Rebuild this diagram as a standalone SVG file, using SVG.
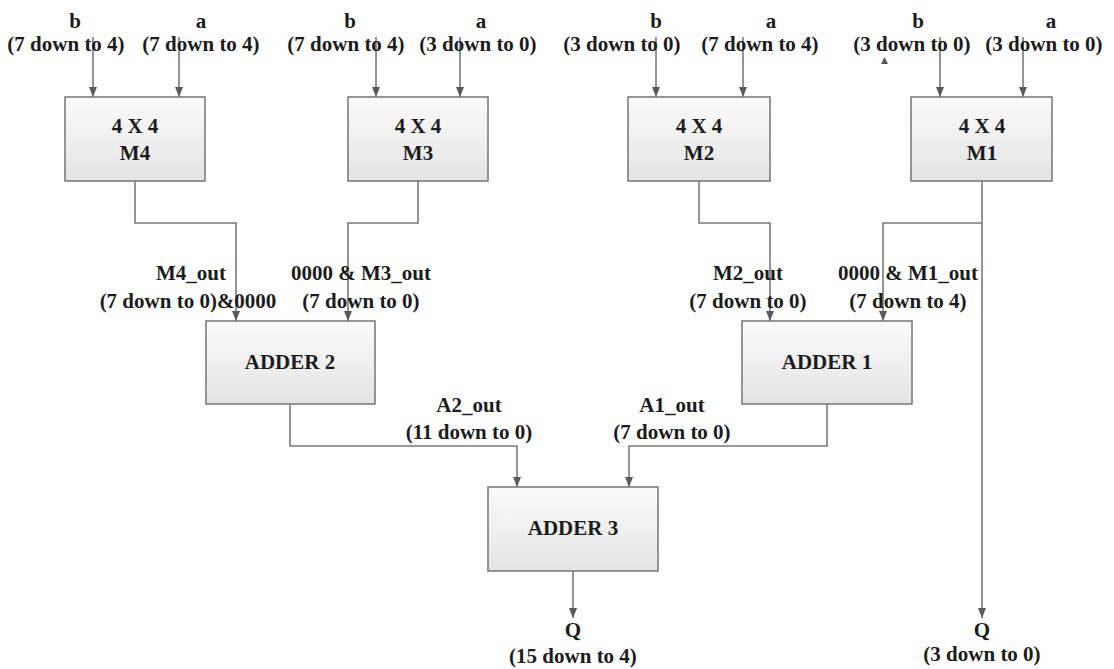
<svg xmlns="http://www.w3.org/2000/svg" width="1114" height="669" viewBox="0 0 1114 669">
<defs>
<linearGradient id="bg" x1="0" y1="0" x2="0" y2="1">
<stop offset="0" stop-color="#fbfbfb"/>
<stop offset="1" stop-color="#e4e4e4"/>
</linearGradient>
<marker id="ah" markerUnits="userSpaceOnUse" markerWidth="10" markerHeight="10" viewBox="0 0 10 10" refX="10" refY="5" orient="auto">
<path d="M0,1 L10,5 L0,9 z" fill="#5a5a5a"/>
</marker>
</defs>
<style>
.box{fill:url(#bg);stroke:#7c7c7c;stroke-width:1.6}
.t{font-family:"Liberation Serif","Times New Roman",serif;font-weight:bold;font-size:21px;fill:#1c1c1c;text-anchor:middle}
.c{fill:none;stroke:#7a7a7a;stroke-width:1.6;marker-end:url(#ah)}
.cn{fill:none;stroke:#7a7a7a;stroke-width:1.6}
</style>
<rect width="1114" height="669" fill="#ffffff"/>

<g id="connectors">
<path class="c" d="M93 37 V97"/>
<path class="c" d="M179 37 V97"/>
<path class="c" d="M376 37 V97"/>
<path class="c" d="M460 37 V97"/>
<path class="c" d="M656 37 V97"/>
<path class="c" d="M743 37 V97"/>
<path class="c" d="M940 37 V97"/>
<path class="c" d="M1023 37 V97"/>
<path class="c" d="M135 181 V223 H236 V321"/>
<path class="c" d="M418 181 V223 H348 V321"/>
<path class="c" d="M699 181 V223 H770 V321"/>
<path class="c" d="M982 181 V618"/>
<path class="c" d="M982 223 H883 V321"/>
<path class="c" d="M290 404 V446 H517 V487"/>
<path class="c" d="M827 404 V446 H629 V487"/>
<path class="c" d="M573 571 V618"/>
<path d="M881 64 L884.5 57 L888 64 z" fill="#5a5a5a"/>
</g>

<g id="inputs">
<text class="t" x="75" y="28">b</text>
<text class="t" x="201" y="28">a</text>
<text class="t" x="66" y="51">(7 down to 4)</text>
<text class="t" x="201" y="51">(7 down to 4)</text>
<text class="t" x="350" y="28">b</text>
<text class="t" x="481" y="28">a</text>
<text class="t" x="346" y="51">(7 down to 4)</text>
<text class="t" x="478" y="51">(3 down to 0)</text>
<text class="t" x="656" y="28">b</text>
<text class="t" x="771" y="28">a</text>
<text class="t" x="622" y="51">(3 down to 0)</text>
<text class="t" x="760" y="51">(7 down to 4)</text>
<text class="t" x="918" y="28">b</text>
<text class="t" x="1051" y="28">a</text>
<text class="t" x="912" y="51">(3 down to 0)</text>
<text class="t" x="1044" y="51">(3 down to 0)</text>
</g>

<g id="M4">
<rect class="box" x="65" y="97" width="140" height="84"/>
<text class="t" x="135" y="133">4 X 4</text>
<text class="t" x="135" y="160">M4</text>
</g>
<g id="M3">
<rect class="box" x="348" y="97" width="140" height="84"/>
<text class="t" x="418" y="133">4 X 4</text>
<text class="t" x="418" y="160">M3</text>
</g>
<g id="M2">
<rect class="box" x="628" y="97" width="142" height="84"/>
<text class="t" x="699" y="133">4 X 4</text>
<text class="t" x="699" y="160">M2</text>
</g>
<g id="M1">
<rect class="box" x="911" y="97" width="141" height="84"/>
<text class="t" x="982" y="133">4 X 4</text>
<text class="t" x="982" y="160">M1</text>
</g>

<g id="mid-labels">
<text class="t" x="191" y="280">M4_out</text>
<text class="t" x="188" y="308">(7 down to 0)&amp;0000</text>
<text class="t" x="361" y="280">0000 &amp; M3_out</text>
<text class="t" x="361" y="308">(7 down to 0)</text>
<text class="t" x="748" y="280">M2_out</text>
<text class="t" x="748" y="308">(7 down to 0)</text>
<text class="t" x="908" y="280">0000 &amp; M1_out</text>
<text class="t" x="908" y="308">(7 down to 4)</text>
<text class="t" x="469" y="412">A2_out</text>
<text class="t" x="469" y="439">(11 down to 0)</text>
<text class="t" x="672" y="412">A1_out</text>
<text class="t" x="672" y="439">(7 down to 0)</text>
</g>

<g id="ADDER2">
<rect class="box" x="206" y="321" width="169" height="83"/>
<text class="t" x="290" y="369">ADDER 2</text>
</g>
<g id="ADDER1">
<rect class="box" x="742" y="321" width="170" height="83"/>
<text class="t" x="827" y="369">ADDER 1</text>
</g>
<g id="ADDER3">
<rect class="box" x="488" y="487" width="170" height="84"/>
<text class="t" x="573" y="535">ADDER 3</text>
</g>

<g id="outputs">
<text class="t" x="573" y="637">Q</text>
<text class="t" x="573" y="663">(15 down to 4)</text>
<text class="t" x="982" y="637">Q</text>
<text class="t" x="982" y="661">(3 down to 0)</text>
</g>
</svg>
